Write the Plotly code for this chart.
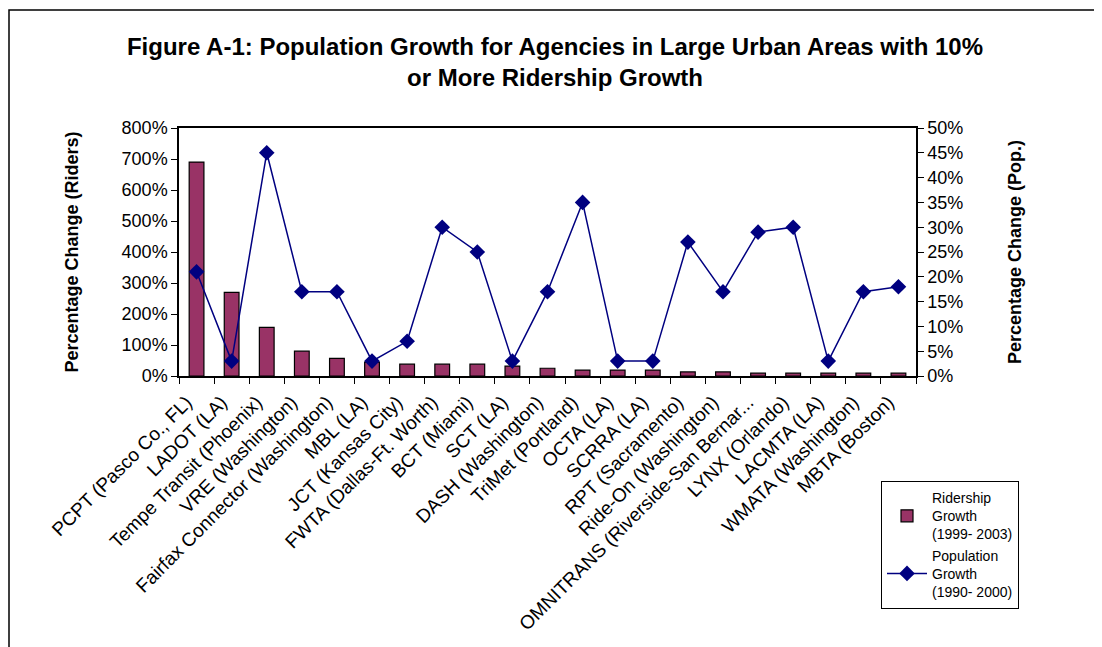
import plotly.graph_objects as go

agencies = [
    "PCPT (Pasco Co., FL)", "LADOT (LA)", "Tempe Transit (Phoenix)", "VRE (Washington)",
    "Fairfax Connector (Washington)", "MBL (LA)", "JCT (Kansas City)", "FWTA (Dallas-Ft. Worth)",
    "BCT (Miami)", "SCT (LA)", "DASH (Washington)", "TriMet (Portland)", "OCTA (LA)",
    "SCRRA (LA)", "RPT (Sacramento)", "Ride-On (Washington)", "OMNITRANS (Riverside-San Bernar...",
    "LYNX (Orlando)", "LACMTA (LA)", "WMATA (Washington)", "MBTA (Boston)",
]
ridership_growth = [690, 270, 157, 80, 57, 45, 38, 38, 38, 32, 25, 19, 19, 19, 13, 13, 9, 9, 9, 9, 9]
population_growth = [21, 3, 45, 17, 17, 3, 7, 30, 25, 3, 17, 35, 3, 3, 27, 17, 29, 30, 3, 17, 18]

left_ticks = list(range(0, 801, 100))
right_ticks = list(range(0, 51, 5))

FONT = "Liberation Sans, Arial, sans-serif"

# figure is placed at (8, 8) by the page's body margin
W, H = 1094, 639
L, T, PW, PH = 171, 120, 737, 248

fig = go.Figure()
fig.add_trace(go.Bar(
    x=agencies, y=ridership_growth, name="Ridership<br>Growth<br>(1999- 2003)",
    marker=dict(color="#993366", line=dict(color="black", width=1.2)),
    width=0.42, yaxis="y",
))
fig.add_trace(go.Scatter(
    x=agencies, y=population_growth, name="Population<br>Growth<br>(1990- 2000)",
    mode="lines+markers", line=dict(color="#000080", width=1.5),
    marker=dict(symbol="diamond", size=12, color="#000080"), yaxis="y2",
))

fig.update_layout(
    width=W, height=H,
    margin=dict(l=L, r=W - L - PW, t=T, b=H - T - PH, autoexpand=False),
    paper_bgcolor="white", plot_bgcolor="white",
    font=dict(family=FONT, size=14, color="black"),
    title=dict(
        text="<b>Figure A-1: Population Growth for Agencies in Large Urban Areas with 10%<br>or More Ridership Growth</b>",
        x=(547 - L) / PW * (PW / W) + L / W, xanchor="center", y=1 - 47 / H, yanchor="top",
        font=dict(family=FONT, size=24, color="black"),
    ),
    showlegend=True,
    legend=dict(
        x=(873 - L) / PW, xanchor="left", y=(T + PH - 473) / PH, yanchor="top",
        bordercolor="black", borderwidth=1, bgcolor="white",
        font=dict(family=FONT, size=14), tracegroupgap=0, itemwidth=40,
    ),
    xaxis=dict(
        type="category", range=[-0.5, 20.5], tickangle=-45, showline=True, linecolor="black",
        linewidth=1.5, mirror=True, ticks="outside", tickson="boundaries", ticklen=6,
        tickcolor="black", showgrid=False, automargin=False,
        ticklabelshift=-10, ticklabelstandoff=6,
        tickfont=dict(family=FONT, size=19),
    ),
    yaxis=dict(
        range=[0, 800], tickvals=left_ticks, ticktext=[f"{v}%" for v in left_ticks],
        showline=True, linecolor="black", linewidth=1.5, ticks="outside", ticklen=6,
        tickcolor="black", showgrid=False, zeroline=False, automargin=False,
        tickfont=dict(family=FONT, size=18),
        title=dict(text="<b>Percentage Change (Riders)</b>", font=dict(family=FONT, size=18), standoff=38),
    ),
    yaxis2=dict(
        range=[0, 50], tickvals=right_ticks, ticktext=[f"{v}%" for v in right_ticks],
        overlaying="y", side="right", showline=True, linecolor="black", linewidth=1.5,
        ticks="outside", ticklen=6, tickcolor="black", showgrid=False, zeroline=False,
        automargin=False, tickfont=dict(family=FONT, size=18),
        title=dict(text="<b>Percentage Change (Pop.)</b>", font=dict(family=FONT, size=18), standoff=46),
    ),
    shapes=[dict(
        type="rect", xref="paper", yref="paper",
        x0=(1 - L) / PW, x1=(W + 20 - L) / PW,
        y0=(T + PH - H - 20) / PH, y1=(T + PH - 2) / PH,
        line=dict(color="black", width=1.5), fillcolor="rgba(0,0,0,0)", layer="below",
    )],
)

fig.write_html("out.html")
